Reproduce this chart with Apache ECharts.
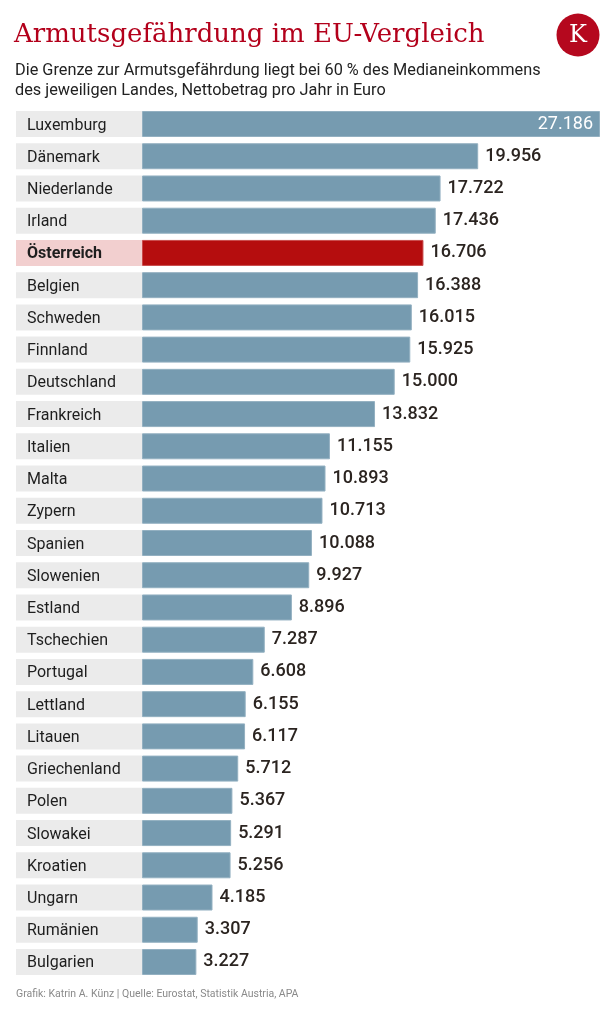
<!DOCTYPE html>
<html>
<head>
<meta charset="utf-8">
<script src="https://cdn.jsdelivr.net/npm/echarts@6/dist/echarts.min.js"></script>
<style>
html,body{margin:0;padding:0;background:#fff;}
#c{width:616px;height:1010px;}
</style>
</head>
<body>
<div id="c"></div>
<script>
const countries = ["Luxemburg","Dänemark","Niederlande","Irland","Österreich","Belgien","Schweden","Finnland","Deutschland","Frankreich","Italien","Malta","Zypern","Spanien","Slowenien","Estland","Tschechien","Portugal","Lettland","Litauen","Griechenland","Polen","Slowakei","Kroatien","Ungarn","Rumänien","Bulgarien"];
const values = [27186,19956,17722,17436,16706,16388,16015,15925,15000,13832,11155,10893,10713,10088,9927,8896,7287,6608,6155,6117,5712,5367,5291,5256,4185,3307,3227];
const highlight = "Österreich";
const titleText = "Armutsgefährdung im EU-Vergleich";
const subtitleLines = ["Die Grenze zur Armutsgefährdung liegt bei 60 % des Medianeinkommens","des jeweiligen Landes, Nettobetrag pro Jahr in Euro"];
const sourceText = "Grafik: Katrin A. Künz | Quelle: Eurostat, Statistik Austria, APA";

const fmt = v => String(v).replace(/\B(?=(\d{3})+(?!\d))/g, ".");
const maxVal = Math.max(...values);

const chart = echarts.init(document.getElementById('c'), null, {renderer:'canvas'});
const option = {
  animation: false,
  backgroundColor: '#ffffff',
  grid: {left: 142, right: 16, top: 107.9, bottom: 31.9, containLabel: false},
  xAxis: {type:'value', min:0, max:maxVal, show:false},
  yAxis: {
    type:'category', data: countries, inverse:true,
    axisLine:{show:false}, axisTick:{show:false}, splitLine:{show:false},
    axisLabel:{
      margin:126, align:'left',
      formatter: n => n === highlight ? '{h|' + n + '}' : '{n|' + n + '}',
      rich:{
        n:{width:115, height:23, lineHeight:23, padding:[3,0,0,11], backgroundColor:'#ebebeb', color:'#1e1e1e', fontFamily:'Roboto', fontSize:16},
        h:{width:115, height:23, lineHeight:23, padding:[3,0,0,11], backgroundColor:'#f2cfcf', color:'#1e1e1e', fontFamily:'Roboto', fontSize:16, fontWeight:'bold'}
      }
    }
  },
  series: [{
    type:'bar',
    barWidth: 26,
    data: values.map((v,i) => {
      const d = {value:v, itemStyle:{color: countries[i]===highlight ? '#b50d0e' : '#769bb0', borderColor: countries[i]===highlight ? '#c84a4a' : '#93b0c1', borderWidth:1}};
      if (v === maxVal) d.label = {position:'insideRight', distance:7, color:'#ffffff', fontWeight:'normal'};
      return d;
    }),
    label:{show:true, position:'right', distance:7, formatter: p => fmt(p.value), fontFamily:'Roboto', fontSize:18, fontWeight:500, color:'#2b2420'}
  }],
  graphic: [
    {type:'text', left:14, top:22, style:{text:titleText, font:'26px "DejaVu Serif"', fill:'#b3001b'}},
    {type:'circle', shape:{cx:578, cy:35, r:21.5}, style:{fill:'#b5081e'}},
    {type:'text', x:578, y:36, style:{text:'K', font:'24px "DejaVu Serif"', fill:'#ffffff', align:'center', verticalAlign:'middle'}},
    {type:'text', left:15, top:61, style:{text:subtitleLines.join('\n'), font:'16.3px Roboto', lineHeight:20, fill:'#222222'}},
    {type:'text', left:16, top:989, style:{text:sourceText, font:'10.5px Roboto', fill:'#8a8a8a'}}
  ]
};
chart.setOption(option);
</script>
</body>
</html>
